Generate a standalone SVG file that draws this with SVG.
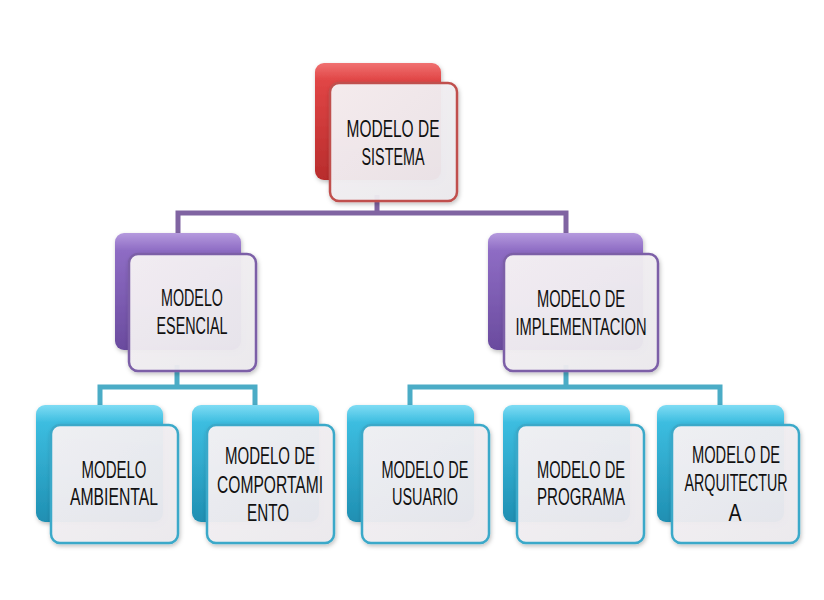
<svg xmlns="http://www.w3.org/2000/svg" width="824" height="600" viewBox="0 0 824 600">
<defs>
<linearGradient id="gRed" x1="0" y1="0" x2="0" y2="1">
<stop offset="0" stop-color="#f07070"/><stop offset="0.15" stop-color="#e04545"/><stop offset="1" stop-color="#b82c2c"/>
</linearGradient>
<linearGradient id="gPur" x1="0" y1="0" x2="0" y2="1">
<stop offset="0" stop-color="#b59ade"/><stop offset="0.15" stop-color="#8e6cc4"/><stop offset="1" stop-color="#6a4b9e"/>
</linearGradient>
<linearGradient id="gTeal" x1="0" y1="0" x2="0" y2="1">
<stop offset="0" stop-color="#7fdcf4"/><stop offset="0.15" stop-color="#3cbde0"/><stop offset="1" stop-color="#1f8fb2"/>
</linearGradient>
<linearGradient id="gCard" x1="0" y1="0" x2="1" y2="1">
<stop offset="0" stop-color="#f7f3f5"/><stop offset="1" stop-color="#ebe9ee"/>
</linearGradient>
<filter id="sh" x="-10%" y="-10%" width="130%" height="130%">
<feDropShadow dx="1" dy="2" stdDeviation="2" flood-color="#000" flood-opacity="0.25"/>
</filter>
</defs>
<style>
.back{stroke:none;}
.card{fill:url(#gCard);fill-opacity:0.95;stroke-width:2.5;}
.red .back{fill:url(#gRed);} .red .card{stroke:#c0504d;}
.pur .back{fill:url(#gPur);} .pur .card{stroke:#7b5ea7;}
.teal .back{fill:url(#gTeal);} .teal .card{stroke:#3ba9c9;}
text{font-family:"Liberation Sans",Arial,sans-serif;font-size:24px;fill:#111;text-anchor:middle;}
.conn{fill:none;stroke-width:5;stroke-linejoin:miter;}
</style>
<rect width="824" height="600" fill="#ffffff"/>
<g id="connectors">
<path class="conn" stroke="#8064a2" d="M377 195 V213 M178 240 V213 H566 V240"/>
<path class="conn" stroke="#4bacc6" d="M177 365 V387 M100 410 V387 H255 V410"/>
<path class="conn" stroke="#4bacc6" d="M566 365 V387 M410 410 V387 H720 V410"/>
</g>
<g id="n-sistema" class="red">
<rect class="back" x="315" y="63" width="126" height="117" rx="9" filter="url(#sh)"/>
<rect class="card" x="330" y="83" width="127" height="118" rx="9" filter="url(#sh)"/>
<text x="393" y="137" textLength="93" lengthAdjust="spacingAndGlyphs">MODELO  DE</text>
<text x="393" y="165" textLength="63" lengthAdjust="spacingAndGlyphs">SISTEMA</text>
</g>
<g id="n-esencial" class="pur">
<rect class="back" x="115" y="233" width="126" height="117" rx="9" filter="url(#sh)"/>
<rect class="card" x="129" y="254" width="127" height="117" rx="9" filter="url(#sh)"/>
<text x="192" y="306" textLength="62" lengthAdjust="spacingAndGlyphs">MODELO</text>
<text x="192" y="334" textLength="71" lengthAdjust="spacingAndGlyphs">ESENCIAL</text>
</g>
<g id="n-implementacion" class="pur">
<rect class="back" x="488" y="233" width="155" height="117" rx="9" filter="url(#sh)"/>
<rect class="card" x="504" y="254" width="154" height="117" rx="9" filter="url(#sh)"/>
<text x="581" y="307" textLength="88" lengthAdjust="spacingAndGlyphs">MODELO DE</text>
<text x="581" y="335" textLength="131" lengthAdjust="spacingAndGlyphs">IMPLEMENTACION</text>
</g>
<g id="n-ambiental" class="teal">
<rect class="back" x="36" y="405" width="127" height="117" rx="9" filter="url(#sh)"/>
<rect class="card" x="51" y="425" width="127" height="118" rx="9" filter="url(#sh)"/>
<text x="114" y="478" textLength="65" lengthAdjust="spacingAndGlyphs">MODELO</text>
<text x="114" y="505" textLength="88" lengthAdjust="spacingAndGlyphs">AMBIENTAL</text>
</g>
<g id="n-comportamiento" class="teal">
<rect class="back" x="192" y="405" width="127" height="117" rx="9" filter="url(#sh)"/>
<rect class="card" x="207" y="425" width="127" height="118" rx="9" filter="url(#sh)"/>
<text x="270" y="464" textLength="90" lengthAdjust="spacingAndGlyphs">MODELO DE</text>
<text x="270" y="493" textLength="106" lengthAdjust="spacingAndGlyphs">COMPORTAMI</text>
<text x="268" y="521" textLength="42" lengthAdjust="spacingAndGlyphs">ENTO</text>
</g>
<g id="n-usuario" class="teal">
<rect class="back" x="347" y="405" width="127" height="117" rx="9" filter="url(#sh)"/>
<rect class="card" x="362" y="425" width="127" height="118" rx="9" filter="url(#sh)"/>
<text x="425" y="478" textLength="87" lengthAdjust="spacingAndGlyphs">MODELO DE</text>
<text x="425" y="505" textLength="66" lengthAdjust="spacingAndGlyphs">USUARIO</text>
</g>
<g id="n-programa" class="teal">
<rect class="back" x="503" y="405" width="127" height="117" rx="9" filter="url(#sh)"/>
<rect class="card" x="517" y="425" width="127" height="118" rx="9" filter="url(#sh)"/>
<text x="581" y="478" textLength="88" lengthAdjust="spacingAndGlyphs">MODELO DE</text>
<text x="581" y="505" textLength="88" lengthAdjust="spacingAndGlyphs">PROGRAMA</text>
</g>
<g id="n-arquitectura" class="teal">
<rect class="back" x="657" y="405" width="127" height="117" rx="9" filter="url(#sh)"/>
<rect class="card" x="672" y="425" width="127" height="118" rx="9" filter="url(#sh)"/>
<text x="736" y="463" textLength="88" lengthAdjust="spacingAndGlyphs">MODELO DE</text>
<text x="736" y="491" textLength="103" lengthAdjust="spacingAndGlyphs">ARQUITECTUR</text>
<text x="735" y="521" textLength="13" lengthAdjust="spacingAndGlyphs">A</text>
</g>
</svg>
